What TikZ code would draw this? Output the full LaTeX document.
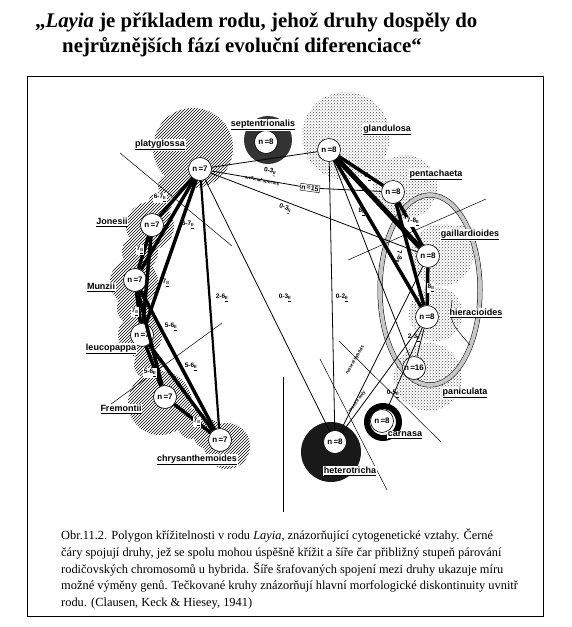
\documentclass[tikz,border=0pt]{standalone}
\usepackage{fontspec}
\setmainfont{Liberation Serif}
\newfontfamily\diafont{Liberation Sans}
\usetikzlibrary{patterns}

\newcommand*{\bival}{\textsubscript{\underline{II}}}
\newcommand*{\spname}[1]{\underline{#1}}

\begin{document}
\begin{tikzpicture}[x=1pt, y=-1pt,
        chrom/.style={
            % the shape:
            circle,
            minimum size=23pt,
            inner sep=0pt,
            % the rest:
            draw=black,
            line width=0.6pt,
            fill=white,
            font=\diafont\bfseries\fontsize{8}{9}\selectfont,
        },
        species/.style={
            fill=white,
            inner sep=0.8pt,
            font=\diafont\bfseries\fontsize{9}{10}\selectfont,
        },
        pairing/.style={
            inner sep=0.8pt,
            font=\diafont\bfseries\fontsize{6.5}{7}\selectfont,
        },
        boxed/.style={pairing, fill=white},
        tiny/.style={inner sep=0.5pt, font=\diafont\bfseries\fontsize{4.5}{5}\selectfont},
        hatched/.style={pattern=north east lines},
        stippled/.style={pattern=crosshatch dots, pattern color=black!70},
        heavy/.style={line width=5pt},
        strong/.style={line width=3.5pt},
        medium/.style={line width=2.2pt},
        weak/.style={line width=0.8pt},
        border/.style={line width=0.5pt},
        title/.style={inner sep=0pt, font=\bfseries\fontsize{20.8}{25}\selectfont},
    ]
    \useasboundingbox (0,0) rectangle (572,627);

    % frame, title and caption
    \draw[line width=0.8pt] (27,76) rectangle (543,616);
    \node[title, anchor=base west] (title1) at (35,27)
        {„\textit{Layia} je příkladem rodu, jehož druhy dospěly do};
    \node[title, anchor=base west] (title2) at (62,52)
        {nejrůznějších fází evoluční diferenciace“};
    \node[anchor=north west, inner sep=0pt, align=left,
          font=\fontsize{12.4}{16.6}\selectfont] (caption) at (61,529)
        {Obr.11.2. Polygon křížitelnosti v rodu \textit{Layia}, znázorňující cytogenetické vztahy. Černé\\
         čáry spojují druhy, jež se spolu mohou úspěšně křížit a šíře čar přibližný stupeň párování\\
         rodičovských chromosomů u hybrida. Šíře šrafovaných spojení mezi druhy ukazuje míru\\
         možné výměny genů. Tečkované kruhy znázorňují hlavní morfologické diskontinuity uvnitř\\
         rodu. (Clausen, Keck \& Hiesey, 1941)};

    % hatched group on the left
    \fill[hatched] (193,148) circle (40pt)
        (170,186) circle (12pt) (160,204) circle (12pt)
        (150,226) circle (24pt) (140,252) circle (18pt) (134,282) circle (24pt)
        (134,308) circle (17pt) (140,335) circle (22pt) (148,365) circle (14pt)
        (160,403) circle (32pt) (192,424) circle (15pt) (208,434) circle (15pt)
        (227,446) circle (23pt);
    % stippled group on the right
    \fill[stippled] (346,136) circle (44pt) (378,165) circle (10pt)
        (405,187) circle (32pt) (442,255) circle (31pt) (462,240) circle (15pt)
        (436,314) circle (27pt) (428,377) circle (34pt);
    \draw[border, double=black!22, double distance=4pt] (430,290) ellipse (50pt and 95pt);
    \draw[border] (452,300) .. controls (450,322) .. (470,345);
    % dark ones
    \fill[black!80] (268,140) circle (24pt);
    \fill[black!90] (331,452) circle (30pt);
    \draw[line width=6pt] (383,422) circle (16pt);

    % discontinuity lines
    \draw[border] (120,153) -- (232,246);
    \draw[border] (107,407) -- (222,323);
    \draw[border] (348,260) -- (486,199);
    \draw[border] (339,341) -- (441,442);
    \draw[border] (320,359) -- (387,490);
    \draw[line width=1pt] (283,377) -- (283,512);

    % species
    \node[chrom] (plat) at (200,169) {n\,=7};
    \node[chrom] (jon) at (152,225) {n\,=7};
    \node[chrom] (mun) at (135,280) {n\,=7};
    \node[chrom] (leu) at (142,335) {n\,=7};
    \node[chrom] (fre) at (165,397) {n\,=7};
    \node[chrom] (chr) at (220,440) {n\,=7};
    \node[chrom] (sep) at (266,142) {n\,=8};
    \node[chrom] (gla) at (329,150) {n\,=8};
    \node[chrom] (pen) at (393,192) {n\,=8};
    \node[chrom] (gai) at (428,256) {n\,=8};
    \node[chrom] (hie) at (427,317) {n\,=8};
    \node[chrom] (pan) at (414,368) {n\,=16};
    \node[chrom] (car) at (382,421) {n\,=8};
    \node[chrom] (het) at (335,442) {n\,=8};
    \node[draw, fill=white, inner sep=1pt, rotate=-8,
          font=\diafont\bfseries\fontsize{7}{8}\selectfont] (amph) at (310,188) {n\,=15};

    % crossings, left
    \draw[strong] (plat) -- (jon);
    \draw[strong] (plat) -- (mun);
    \draw[strong] (plat) -- (leu);
    \draw[strong] (jon) -- (mun);
    \draw[strong] (jon) -- (leu);
    \draw[strong] (mun) -- (leu);
    \draw[strong] (mun) -- (fre);
    \draw[strong] (leu) -- (fre);
    \draw[strong] (leu) -- (chr);
    \draw[strong] (mun) -- (chr);
    \draw[strong] (fre) -- (chr);
    \draw[medium] (plat) -- (chr);
    % crossings, right
    \draw[heavy] (gla) -- (gai);
    \draw[strong] (gla) -- (pen);
    \draw[strong] (gla) -- (hie);
    \draw[strong] (pen) -- (gai);
    \draw[strong] (pen) -- (hie);
    \draw[strong] (gai) -- (hie);
    \draw[weak] (hie) -- (pan);
    % weak crossings
    \draw[weak] (plat) -- (gla);
    \draw[weak] (plat) -- (amph);
    \draw[weak] (amph) -- (pen);
    \draw[weak] (plat) -- (gai);
    \draw[weak] (plat) -- (het);
    \draw[weak] (gla) -- (het);
    \draw[weak] (gla) -- (pan);
    \draw[weak] (het) -- (gai);
    \draw[weak] (het) -- (hie);
    \draw[weak] (car) -- (hie);

    % pairing labels
    \node[boxed] at (160,198) {6-7\bival};
    \node[pairing] at (188,225) {6-7\bival};
    \node[boxed] at (140,250) {7\bival};
    \node[pairing] at (166,283) {7\bival};
    \node[boxed] at (135,312) {7\bival};
    \node[pairing] at (171,327) {5-6\bival};
    \node[pairing] at (191,367) {5-6\bival};
    \node[boxed] at (150,373) {5-6\bival};
    \node[boxed] at (197,422) {7\bival};
    \node[pairing] at (222,298) {2-6\bival};
    \node[pairing] at (285,298) {0-3\bival};
    \node[pairing, rotate=-10] at (270,172) {0-3\bival};
    \node[tiny, rotate=-12] at (262,181) {artificial species};
    \node[pairing, rotate=-20] at (285,209) {0-3\bival};
    \node[pairing] at (368,177) {8\bival};
    \node[pairing] at (362,212) {8\bival};
    \node[boxed] at (413,222) {7-8\bival};
    \node[pairing, rotate=-90] at (398,257) {7-8\bival};
    \node[boxed] at (431,288) {8\bival};
    \node[pairing] at (414,338) {2-3\bival};
    \node[pairing] at (342,298) {0-2\bival};
    \node[pairing] at (393,394) {0-5\bival};
    \node[tiny, rotate=60] at (355,360) {natural hybrids};
    \node[tiny, rotate=52] at (357,402) {rosette only};

    % species names
    \node[species] at (160,145) {\spname{platyglossa}};
    \node[species] at (263,125) {\spname{septentrionalis}};
    \node[species] at (387,130) {\spname{glandulosa}};
    \node[species] at (436,175) {\spname{pentachaeta}};
    \node[species] at (470,235) {\spname{gaillardioides}};
    \node[species] at (476,313) {\spname{hieracioides}};
    \node[species] at (465,393) {\spname{paniculata}};
    \node[species] at (405,435) {\spname{carnasa}};
    \node[species] at (350,471) {\spname{heterotricha}};
    \node[species] at (197,460) {\spname{chrysanthemoides}};
    \node[species] at (121,409) {\spname{Fremontii}};
    \node[species] at (111,349) {\spname{leucopappa}};
    \node[species] at (101,287) {\spname{Munzii}};
    \node[species] at (112,222) {\spname{Jonesii}};
\end{tikzpicture}
\end{document}
